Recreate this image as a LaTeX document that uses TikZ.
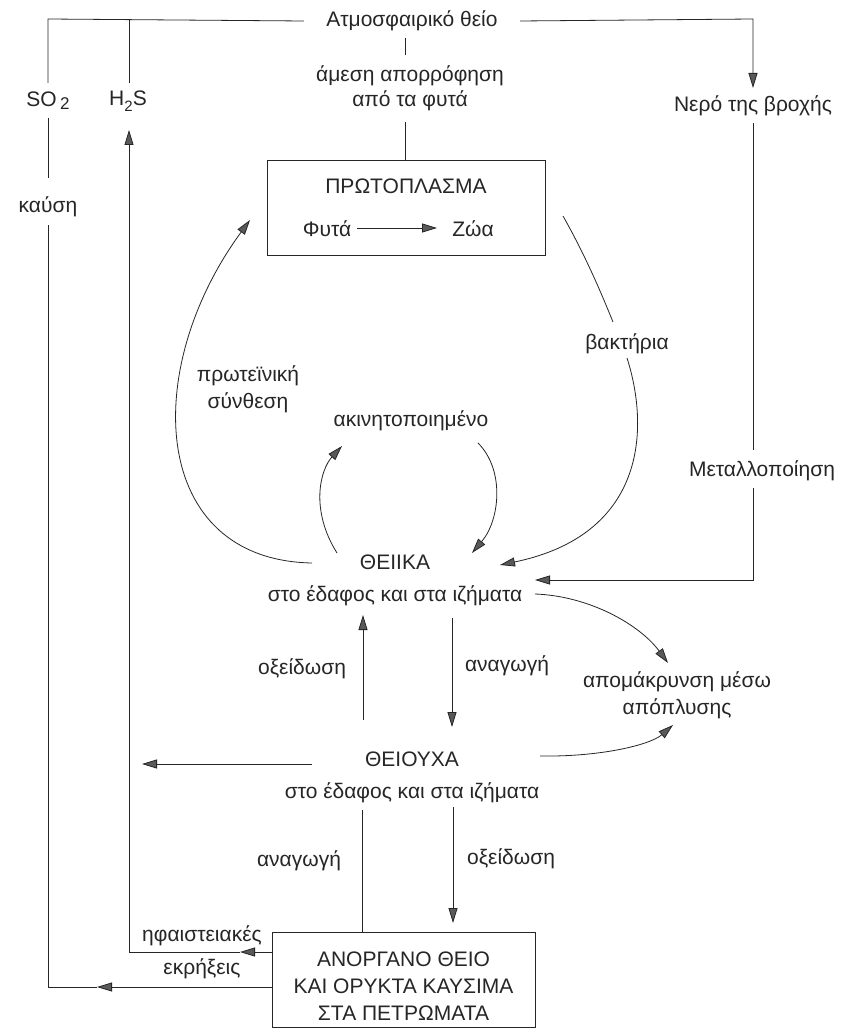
\documentclass[tikz,border=0pt]{standalone}
\usepackage{fontspec}
\setmainfont{Liberation Sans}
\usetikzlibrary{arrows.meta}
\begin{document}
\begin{tikzpicture}[x=1pt,y=-1pt,line width=0.8pt,color=black!85,
  txt/.style={font=\fontsize{21}{25}\selectfont, inner sep=0pt, align=center},
  arr/.style={-{Triangle[length=15pt,width=9pt,fill=black!65]}},
  boxn/.style={draw, inner sep=0pt}]
\useasboundingbox (0,0) rectangle (854,1032);
\fill[white] (0,0) rectangle (854,1032);

% ---------- text nodes ----------
\node[txt, inner xsep=22pt] (atm) at (412,21) {Ατμοσφαιρικό θείο};
\node[txt] (ames) at (410,88) {άμεση απορρόφηση\\από τα φυτά};
\node[txt] (rain) at (753,106) {Νερό της βροχής};
\node[txt] (so2) at (48,101) {SO\,\raisebox{-0.3ex}{\fontsize{17}{17}\selectfont 2}};
\node[txt] (h2s) at (128,101) {H\raisebox{-0.55ex}{\fontsize{15}{15}\selectfont 2}S};
\node[txt] (kaush) at (48,207) {καύση};
\node[boxn, minimum width=278pt, minimum height=95pt] (proto) at (406,207.5) {};
\node[txt] (protot) at (406,186) {ΠΡΩΤΟΠΛΑΣΜΑ};
\node[txt] (fyta) at (327,229) {Φυτά};
\node[txt] (zwa) at (473,229) {Ζώα};
\node[txt] (prot) at (248,389) {πρωτεϊνική\\[2pt]σύνθεση};
\node[txt] (akin) at (411,421) {ακινητοποιημένο};
\node[txt] (bakt) at (627,344) {βακτήρια};
\node[txt] (metal) at (762,471) {Μεταλλοποίηση};
\node[txt] (theiika) at (395,580) {ΘΕΙΙΚΑ\\[7pt]στο έδαφος και στα ιζήματα};
\node[txt] (ox1) at (302,669) {οξείδωση};
\node[txt] (an1) at (507,666) {αναγωγή};
\node[txt] (apom) at (677,695) {απομάκρυνση μέσω\\[2pt]απόπλυσης};
\node[txt] (theiouxa) at (412,777) {ΘΕΙΟΥΧΑ\\[7pt]στο έδαφος και στα ιζήματα};
\node[txt] (an2) at (299,861) {αναγωγή};
\node[txt] (ox2) at (511,859) {οξείδωση};
\node[txt] (hfai) at (202,936) {ηφαιστειακές};
\node[txt] (ekr) at (202,969) {εκρήξεις};
\node[boxn, minimum width=263pt, minimum height=95pt] (bot) at (403.5,979.5) {};
\node[txt, font=\fontsize{21}{27}\selectfont] (bott) at (403.5,986) {ΑΝΟΡΓΑΝΟ ΘΕΙΟ\\ΚΑΙ ΟΡΥΚΤΑ ΚΑΥΣΙΜΑ\\ΣΤΑ ΠΕΤΡΩΜΑΤΑ};

% ---------- coordinates ----------
\coordinate (tl) at (48,19);
\coordinate (th) at (129,19);
\coordinate (tr) at (753,19);
\coordinate (so2a) at (48,83);
\coordinate (so2b) at (48,118);
\coordinate (kaa) at (48,178);
\coordinate (kab) at (48,225);
\coordinate (bl) at (48,987);
\coordinate (so2tip) at (97,987);
\coordinate (h2sa) at (129,83);
\coordinate (h2stip) at (129,130);
\coordinate (hb) at (129,952);
\coordinate (h2sarr) at (240,952);
\coordinate (raintip) at (753,88);
\coordinate (raina) at (753,123);
\coordinate (metala) at (753,450);
\coordinate (metalb) at (753,488);
\coordinate (metalc) at (753,580);
\coordinate (metaltip) at (535,580);
\coordinate (atma) at (405,38);
\coordinate (atmb) at (405,55);
\coordinate (amesb) at (405,122);
\coordinate (fytaE) at (357,228);
\coordinate (zwaW) at (437,228);
\coordinate (pr1) at (563,216);
\coordinate (bk1) at (613,322);
\coordinate (bk2) at (627,358);
\coordinate (bktip) at (500,565);
\coordinate (th1) at (312,563);
\coordinate (prtip) at (250,220);
\coordinate (ak1) at (337,553);
\coordinate (aktip) at (342,446);
\coordinate (ak2) at (478,443);
\coordinate (ak2tip) at (472,553);
\coordinate (anA) at (452,618);
\coordinate (anAtip) at (452,727);
\coordinate (oxA) at (363,720);
\coordinate (oxAtip) at (363,615);
\coordinate (ap1) at (535,594);
\coordinate (ap1tip) at (668,663);
\coordinate (ap2) at (540,756);
\coordinate (ap2tip) at (673,725);
\coordinate (tx1) at (312,764);
\coordinate (tx1tip) at (142,764);
\coordinate (oxB) at (453,807);
\coordinate (oxBtip) at (453,923);
\coordinate (anB) at (362,810);

% ---------- connectors ----------
% atmosphere branches
\draw (atm.west) -- (tl) -- (so2a);
\draw (th) -- (h2sa);
\draw[arr] (atm.east) -- (tr) -- (raintip);
\draw (so2b) -- (kaa);
\draw (atma) -- (atmb);
\draw (amesb) -- (proto.north -| amesb);
% protoplasm
\draw[arr] (fytaE) -- (zwaW);
\draw (pr1) .. controls (585,255) and (600,290) .. (bk1);
\draw[arr] (bk2) .. controls (650,430) and (645,535) .. (bktip);
\draw[arr] (th1) .. controls (150,560) and (140,370) .. (prtip);
% immobilised
\draw[arr] (ak1) .. controls (310,510) and (320,470) .. (aktip);
\draw[arr] (ak2) .. controls (505,470) and (500,520) .. (ak2tip);
% rain water / mineralisation
\draw (raina) -- (metala);
\draw[arr] (metalb) -- (metalc) -- (metaltip);
% sulphates / sulphides
\draw[arr] (anA) -- (anAtip);
\draw[arr] (oxA) -- (oxAtip);
\draw[arr] (ap1) .. controls (590,596) and (640,625) .. (ap1tip);
\draw[arr] (ap2) .. controls (600,757) and (650,745) .. (ap2tip);
\draw[arr] (tx1) -- (tx1tip);
\draw[arr] (oxB) -- (oxBtip);
\draw (anB) -- (bot.north -| anB);
% from the rocks
\draw[arr] (bot.west |- hb) -- (h2sarr);
\draw[arr] (h2sarr) -- (hb) -- (h2stip);
\draw[arr] (bot.west |- bl) -- (so2tip);
\draw (so2tip) -- (bl) -- (kab);
\end{tikzpicture}
\end{document}
